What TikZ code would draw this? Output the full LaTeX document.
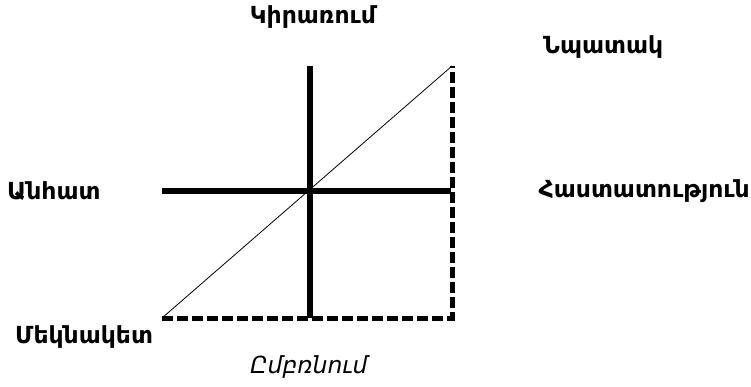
\documentclass[tikz,border=0pt]{standalone}
\usepackage{fontspec}
\setmainfont{DejaVu Sans}
\begin{document}
\begin{tikzpicture}[x=1pt,y=1pt,
  lbl/.style={inner sep=0pt, font=\fontsize{23.5}{26}\selectfont\bfseries},
  axis/.style={line width=6pt},
  frame/.style={line width=5pt, dash pattern=on 11pt off 4pt},
  diag/.style={line width=0.8pt}]
\useasboundingbox (0,0) rectangle (751,-386);
\coordinate (top) at (310,-66);
\coordinate (bot) at (310,-318);
\coordinate (left) at (162,-191);
\coordinate (right) at (451,-191);
\coordinate (origin) at (162,-318);
\coordinate (corner) at (452,-318);
\coordinate (goal) at (452,-66);
\draw[frame] (origin) -- (corner) -- (goal);
\draw[axis] (top) -- (bot);
\draw[axis] (left) -- (right);
\draw[diag] (origin) -- (goal);
\node[lbl] (use) at (313,-17) {Կիրառում};
\node[lbl, anchor=west] (aim) at (543,-47) {Նպատակ};
\node[lbl, anchor=west] (ind) at (7,-191) {Անհատ};
\node[lbl, anchor=east] (inst) at (750,-191) {Հաստատություն};
\node[lbl, anchor=west] (start) at (15,-337) {Մեկնակետ};
\node[lbl, font=\fontsize{23.5}{26}\selectfont\itshape] (und) at (309,-367) {Ըմբռնում};
\end{tikzpicture}
\end{document}
